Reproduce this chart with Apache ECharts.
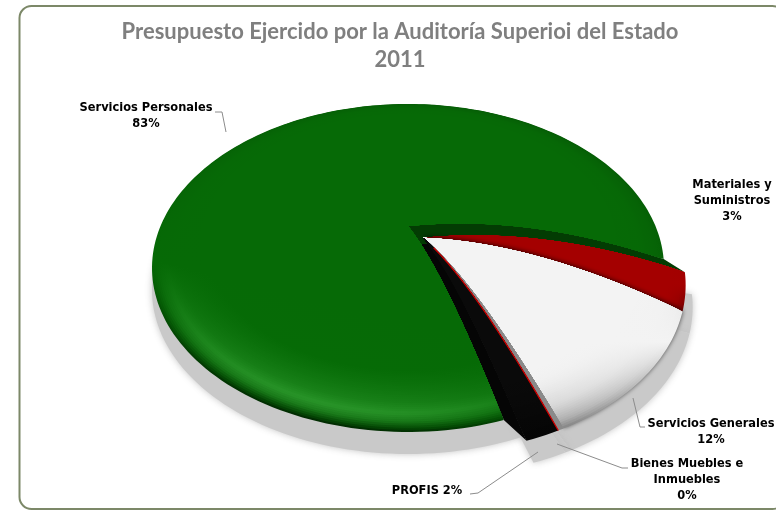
<!DOCTYPE html>
<html>
<head>
<meta charset="utf-8">
<style>html,body{margin:0;padding:0;background:#fff}#c{width:776px;height:510px}</style>
<script src="https://cdn.jsdelivr.net/npm/echarts@6/dist/echarts.min.js"></script>
</head>
<body>
<div id="c"></div>
<script>
const categories = ['Servicios Personales', 'Materiales y Suministros', 'Servicios Generales', 'Bienes Muebles e Inmuebles', 'PROFIS'];
const values = [83.0, 3.49, 11.51, 0.3, 1.7];
const labelTexts = ['Servicios Personales\n83%', 'Materiales y\nSuministros\n3%', 'Servicios Generales\n12%', 'Bienes Muebles e\nInmuebles\n0%', 'PROFIS 2%'];
const titleText = 'Presupuesto Ejercido por la Auditoría Superioi del Estado\n2011';

// ---- layout and styling only ----
const CX = 408, CY = 268, RX = 256, RY = 164, TILT = -0.256, KT = Math.sqrt(1 - TILT * TILT);
const START = 73, DOME = 14, BAND = 0.2, LAYERS = 32;
const pulled = [false, true, true, true, true];
const PULL = [0.06, 0.075];
const labelPos = [[146, 116], [732, 201], [711, 432], [687, 480], [427, 491]];
const leaders = [
  [[215, 112], [222, 112], [226, 132]],
  null,
  [[633, 398], [640, 427], [645, 427]],
  [[557, 444], [622, 468], [628, 468]],
  [[538, 452], [478, 493], [470, 494]]
];
// [inset, colour at the far end of the gradient, colour at the near end]
const ramps = [
  {x0: 440, y0: 104, x1: 360, y1: 432, mid: 0.65, base: '#066a06', stops: [[0, '#055a05', '#012c01'], [0.008, '#055e05', '#034503'], [0.03, '#066206', '#1c7c1c'], [0.055, '#066406', '#2f9c2f'], [0.09, '#066806', '#1e881e'], [0.2, '#066a06', '#066c06']]},
  {x0: 0, y0: 240, x1: 0, y1: 320, mid: 0.55, base: '#a40000', stops: [[0, '#980000', '#6a0000'], [0.02, '#a00000', '#8c0000'], [0.06, '#a40000', '#a40000'], [0.2, '#a40000', '#a40000']]},
  {x0: 0, y0: 240, x1: 0, y1: 425, mid: 0.55, base: '#f3f3f3', stops: [[0, '#dcdcdc', '#8a8a8a'], [0.02, '#e6e6e6', '#a8a8a8'], [0.07, '#f0f0f0', '#cfcfcf'], [0.16, '#f3f3f3', '#eeeeee'], [0.2, '#f3f3f3', '#f3f3f3']]},
  {x0: 0, y0: 240, x1: 0, y1: 430, mid: 0.55, base: '#8a8a8a', stops: [[0, '#8a8a8a', '#8a8a8a'], [0.2, '#8a8a8a', '#8a8a8a']]},
  {x0: 0, y0: 240, x1: 0, y1: 440, mid: 0.55, base: '#0a0a0a', stops: [[0, '#050505', '#050505'], [0.2, '#0a0a0a', '#0a0a0a']]}
];

function project(u, v) {
  const d = 1 + TILT * v;
  return [CX + RX * u * KT / d, CY + RY * (v + TILT) / d];
}
function hex(c) { return [1, 3, 5].map(i => parseInt(c.substr(i, 2), 16)); }
function mix(a, b, t) {
  const x = hex(a), y = hex(b);
  return 'rgb(' + x.map((p, i) => Math.round(p + (y[i] - p) * t)).join(',') + ')';
}
function ramp(stops, d, col) {
  for (let i = 1; i < stops.length; i++) {
    if (d <= stops[i][0]) {
      const t = (d - stops[i - 1][0]) / (stops[i][0] - stops[i - 1][0]);
      return mix(stops[i - 1][col], stops[i][col], t);
    }
  }
  return stops[stops.length - 1][col];
}
function angles() {
  const total = values.reduce((a, b) => a + b, 0);
  const out = []; let a = START;
  values.forEach(v => { out.push([a, a + v / total * 360]); a += v / total * 360; });
  return out;
}
function spoke(a, pull, s, from, to, dome) {
  const rad = Math.PI / 180, ox = pull ? PULL[0] : 0, oy = pull ? PULL[1] : 0, pts = [];
  for (let i = 0; i <= 14; i++) {
    const r = (from + (to - from) * i / 14) * s;
    const p = project(ox + r * Math.cos(a * rad), oy + r * Math.sin(a * rad));
    pts.push([p[0], p[1] - dome * 4 * r * (1 - r)]);
  }
  return pts;
}
// outline of a wedge between two angles, with the dome bending its straight edges
function wedge(a0, a1, pull, s, dome) {
  const rad = Math.PI / 180, ox = pull ? PULL[0] : 0, oy = pull ? PULL[1] : 0;
  const pts = spoke(a0, pull, s, 0, 1, dome);
  const n = Math.max(2, Math.ceil((a1 - a0) / 1.5));
  const arcDome = dome * 4 * s * (1 - s);
  for (let i = 1; i < n; i++) {
    const a = (a0 + (a1 - a0) * i / n) * rad, p = project(ox + s * Math.cos(a), oy + s * Math.sin(a));
    pts.push([p[0], p[1] - arcDome]);
  }
  return pts.concat(spoke(a1, pull, s, 1, 0, dome));
}
// side wall joining a spoke of the fixed slice to the same spoke of the pulled group
function wall(a) {
  return spoke(a, false, 1, 0, 1, DOME).concat(spoke(a, true, 1, 1, 0, DOME));
}
function shifted(pts, dx, dy) { return pts.map(p => [p[0] + dx, p[1] + dy]); }
function grad(r, top, bot) {
  return {type: 'linear', global: true, x: r.x0, y: r.y0, x2: r.x1, y2: r.y1,
    colorStops: [{offset: 0, color: top}, {offset: r.mid, color: r.base}, {offset: 1, color: bot}]};
}

const option = {
  animation: false,
  backgroundColor: '#ffffff',
  title: {
    text: titleText, left: 395, top: 13, textAlign: 'center',
    textStyle: {fontFamily: 'Lato', fontWeight: 'bold', fontSize: 22, color: '#7f7f7f', lineHeight: 28}
  },
  graphic: [{
    type: 'rect', z: -1, shape: {x: 19.5, y: 6, width: 765, height: 503, r: 12},
    style: {fill: '#ffffff', stroke: '#7c8868', lineWidth: 2}
  }],
  series: [
    { // ground shadow
      type: 'custom', coordinateSystem: 'none', z: 1, silent: true, data: values,
      renderItem(params) {
        const i = params.dataIndex, a = angles()[i];
        const style = {fill: '#c9c9c9', shadowBlur: 7, shadowColor: 'rgba(190,190,190,0.9)'};
        const pts = i === 0 ? wedge(0, 360, false, 1, 0) : wedge(a[0], a[1], true, 1, 0);
        return {type: 'polygon', shape: {points: shifted(pts, i ? 7 : 0, 22)}, style};
      }
    },
    { // slices
      type: 'custom', coordinateSystem: 'none', z: 2, silent: true, data: values,
      renderItem(params) {
        const i = params.dataIndex, a = angles()[i], r = ramps[i], kids = [];
        if (i === 0) {
          const all = angles();
          const wallFill = {type: 'linear', global: true, x: 0, y: 226, x2: 0, y2: 262,
            colorStops: [{offset: 0, color: '#033c03'}, {offset: 0.5, color: '#033c03'}, {offset: 0.5, color: '#050505'}, {offset: 1, color: '#050505'}]};
          kids.push({type: 'polygon', shape: {points: wedge(all[1][0], all[4][1], false, 0.55, DOME)}, style: {fill: '#033c03'}});
          kids.push({type: 'polygon', shape: {points: wall(all[1][0] - 360)}, style: {fill: '#033c03'}});
          kids.push({type: 'polygon', shape: {points: wall(all[4][1])}, style: {fill: wallFill}});
        }
        for (let l = 0; l < LAYERS; l++) {
          const d = BAND * l / (LAYERS - 1);
          const style = {fill: grad(r, ramp(r.stops, d, 1), ramp(r.stops, d, 2))};
          if (l === 0 && i === 2) {
            style.shadowBlur = 5; style.shadowColor = 'rgba(0,0,0,0.75)'; style.shadowOffsetY = -1;
          }
          kids.push({type: 'polygon', shape: {points: wedge(a[0], a[1], pulled[i], 1 - d, DOME)}, style});
        }
        if (i === 4) { // red hairline between the thin slice and the black one
          kids.push({type: 'polyline', shape: {points: spoke(a[0], true, 1, 0.1, 1, DOME)}, style: {stroke: '#d00000', lineWidth: 1.3, fill: null}});
        }
        return {type: 'group', children: kids};
      }
    },
    { // labels and leader lines
      type: 'custom', coordinateSystem: 'none', z: 3, silent: true, data: values,
      renderItem(params) {
        const i = params.dataIndex, kids = [{
          type: 'text', x: labelPos[i][0], y: labelPos[i][1],
          style: {text: labelTexts[i], align: 'center', verticalAlign: 'middle', fill: '#000',
            font: "bold 12.7px 'DejaVu Sans Condensed', 'DejaVu Sans'", lineHeight: 16}
        }];
        if (leaders[i]) kids.push({type: 'polyline', shape: {points: leaders[i]}, style: {stroke: '#8c8c8c', lineWidth: 1, fill: null}});
        return {type: 'group', children: kids};
      }
    }
  ]
};
echarts.init(document.getElementById('c')).setOption(option);
</script>
</body>
</html>
